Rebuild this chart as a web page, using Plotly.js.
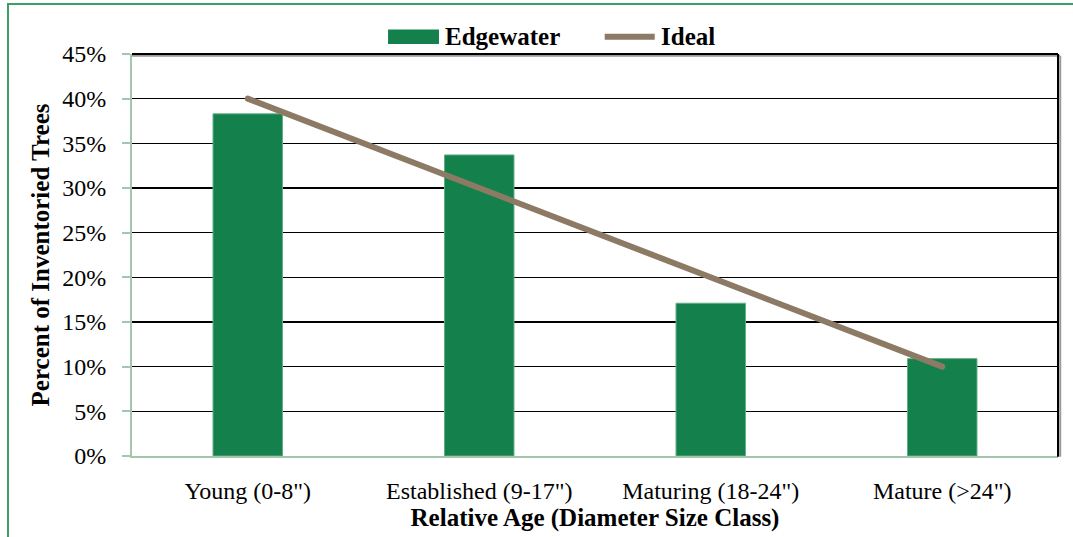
<!DOCTYPE html>
<html>
<head>
<meta charset="utf-8">
<script src="https://cdn.plot.ly/plotly-3.0.1.min.js"></script>
<style>
  html, body { margin: 0; padding: 0; background: #ffffff; }
  #wrap { position: relative; width: 1073px; height: 537px; overflow: hidden; }
  #chart { position: absolute; left: 0; top: 0; width: 1073px; height: 537px; }
  #frame { position: absolute; left: 7px; top: 3px; width: 1080px; height: 560px;
           border-left: 2px solid #3c9f68; border-top: 2px solid #3c9f68; pointer-events: none; }
  .scatterlayer path.js-line { stroke-linecap: round; }
</style>
</head>
<body>
<div id="wrap">
  <div id="chart"></div>
  <div id="frame"></div>
</div>
<script>
// Size classes and the share of inventoried trees in each
const categories = ['Young (0-8")', 'Established (9-17")', 'Maturing (18-24")', 'Mature (>24")'];
const edgewater = [38.3, 33.7, 17.1, 10.9];
const ideal = [40, 30, 20, 10];
const yTicks = [0, 5, 10, 15, 20, 25, 30, 35, 40, 45];
const yTickText = yTicks.map(v => v + '%');

const FONT = 'Liberation Serif, Times New Roman, serif';
const BAR = '#14814c';
const LINE = '#8c7a64';
const AXIS = '#a3c6ad';

const traces = [
  {
    type: 'bar', name: 'Edgewater', x: categories, y: edgewater,
    width: 0.3,
    marker: { color: BAR, line: { color: '#5fae84', width: 1 } },
    hoverinfo: 'x+y'
  },
  {
    type: 'scatter', mode: 'lines', name: 'Ideal', x: categories, y: ideal,
    line: { color: LINE, width: 6 },
    hoverinfo: 'x+y'
  }
];

const layout = {
  width: 1073, height: 537,
  margin: { l: 132, r: 15, t: 54, b: 81 },
  paper_bgcolor: '#ffffff', plot_bgcolor: '#ffffff',
  font: { family: FONT, size: 24, color: '#000000' },
  showlegend: false,
  bargap: 0.7,
  xaxis: {
    type: 'category',
    showline: true, linecolor: AXIS, linewidth: 2,
    ticks: '', showgrid: false, zeroline: false,
    ticklabelstandoff: 12,
    tickfont: { family: FONT, size: 24, color: '#000000' },
    title: { text: '<b>Relative Age (Diameter Size Class)</b>', standoff: 4,
             font: { family: FONT, size: 25, color: '#000000' } },
    automargin: false
  },
  yaxis: {
    range: [0, 45],
    tickvals: yTicks, ticktext: yTickText,
    showline: true, linecolor: AXIS, linewidth: 2,
    ticks: 'outside', ticklen: 8, tickcolor: AXIS, tickwidth: 2,
    showgrid: true, gridcolor: '#000000', gridwidth: 1.3,
    zeroline: false,
    ticklabelstandoff: 11,
    tickfont: { family: FONT, size: 24, color: '#000000' },
    title: { text: '<b>Percent of Inventoried Trees</b>', standoff: 5,
             font: { family: FONT, size: 25, color: '#000000' } },
    automargin: false
  },
  shapes: [
    // plot frame: top and right edges with a soft shadow
    { type: 'line', xref: 'paper', yref: 'paper', x0: 0, x1: 1.0022, y0: 0.9955, y1: 0.9955,
      line: { color: '#9a9a9a', width: 2 } },
    { type: 'line', xref: 'paper', yref: 'paper', x0: 1.0024, x1: 1.0024, y0: -0.002, y1: 0.9955,
      line: { color: '#9a9a9a', width: 2 } },
    { type: 'line', xref: 'paper', yref: 'paper', x0: 0, x1: 1, y0: 1, y1: 1,
      line: { color: '#000000', width: 2 } },
    { type: 'line', xref: 'paper', yref: 'paper', x0: 1, x1: 1, y0: -0.002, y1: 1,
      line: { color: '#000000', width: 2 } },
    // legend swatches
    { type: 'rect', xref: 'paper', yref: 'paper', x0: 0.2765, x1: 0.3315, y0: 1.025, y1: 1.061,
      fillcolor: BAR, line: { width: 0 } },
    { type: 'line', xref: 'paper', yref: 'paper', x0: 0.5105, x1: 0.5645, y0: 1.043, y1: 1.043,
      line: { color: LINE, width: 6 } }
  ],
  annotations: [
    { xref: 'paper', yref: 'paper', x: 0.336, y: 1.043, xanchor: 'left', yanchor: 'middle',
      text: '<b>' + traces[0].name + '</b>', showarrow: false,
      font: { family: FONT, size: 25, color: '#000000' } },
    { xref: 'paper', yref: 'paper', x: 0.569, y: 1.043, xanchor: 'left', yanchor: 'middle',
      text: '<b>' + traces[1].name + '</b>', showarrow: false,
      font: { family: FONT, size: 25, color: '#000000' } }
  ]
};

Plotly.newPlot('chart', traces, layout, { displayModeBar: false, staticPlot: true });
</script>
</body>
</html>
